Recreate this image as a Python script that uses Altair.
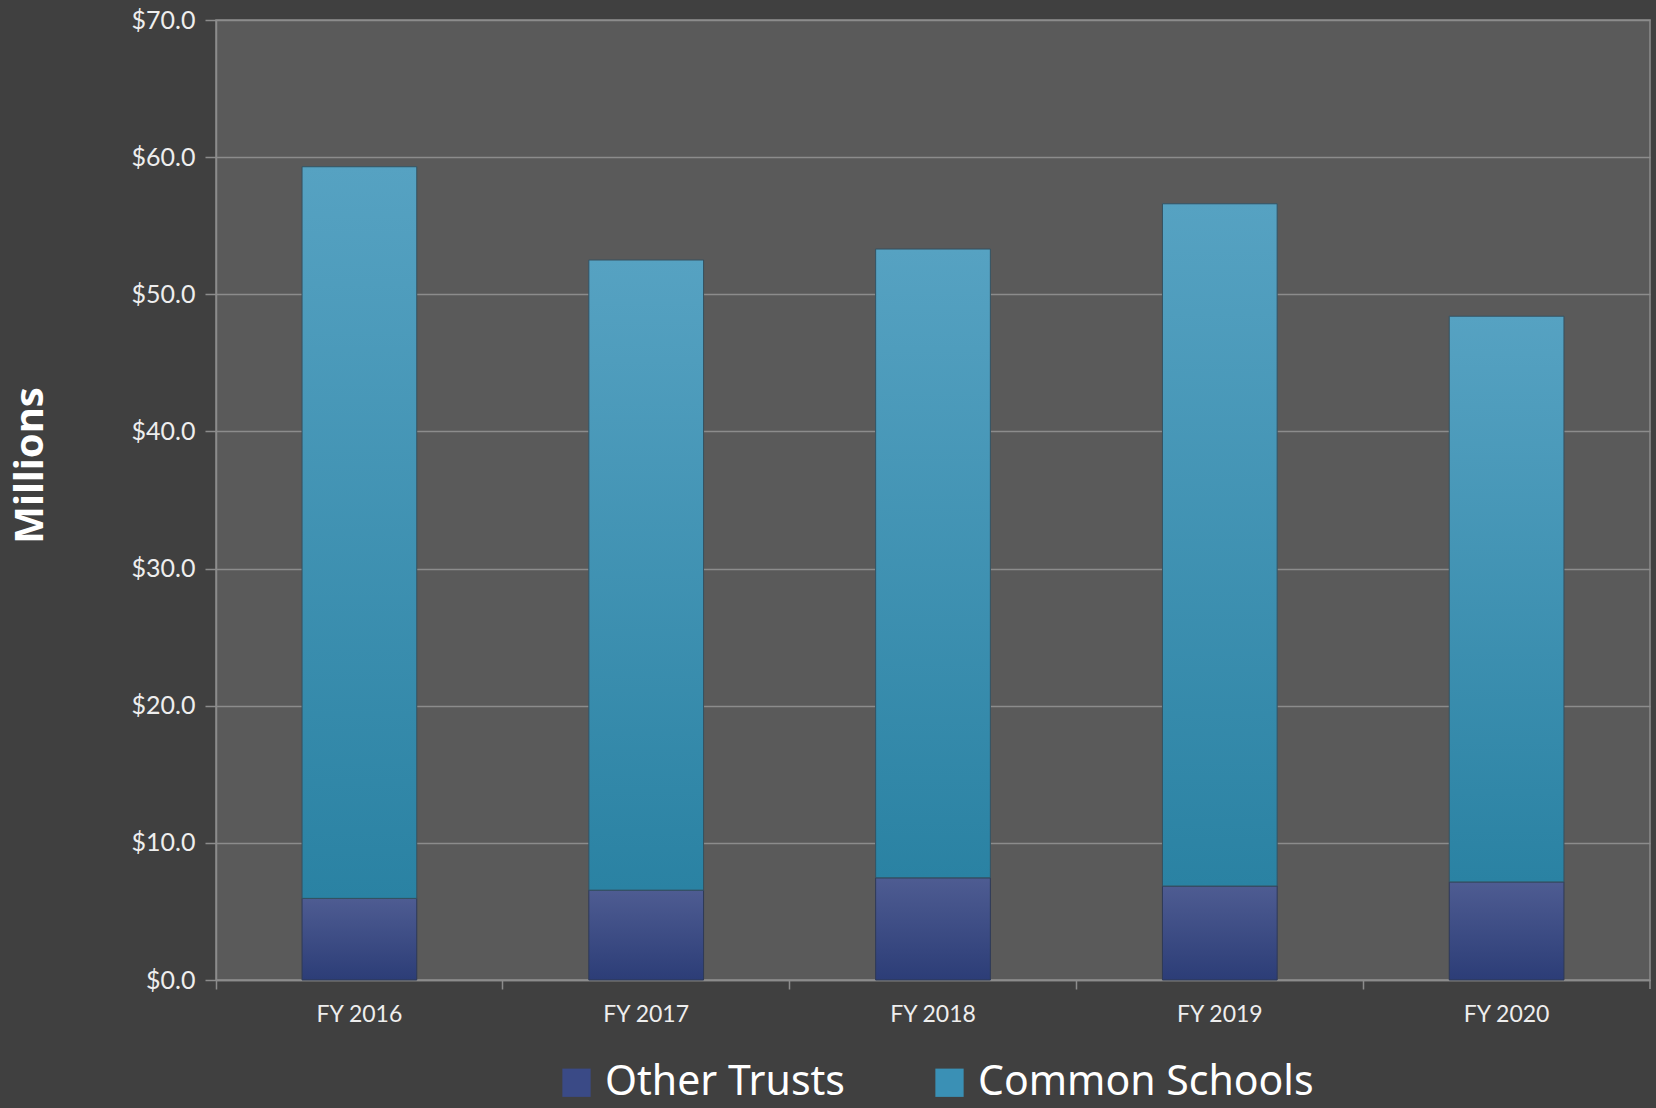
import altair as alt
import pandas as pd

years = ["FY 2016", "FY 2017", "FY 2018", "FY 2019", "FY 2020"]
other_trusts = [5.95, 6.55, 7.45, 6.85, 7.15]
common_schools = [53.35, 45.95, 45.85, 49.75, 41.25]
series_names = ["Other Trusts", "Common Schools"]
y_ticks = [0, 10, 20, 30, 40, 50, 60, 70]

rows = []
for i, yr in enumerate(years):
    base = 0.0
    for name, vals in zip(series_names, [other_trusts, common_schools]):
        rows.append({"year": yr, "series": name, "value": vals[i],
                     "y0": base, "y1": base + vals[i]})
        base += vals[i]
df = pd.DataFrame(rows)

W, H = 1434, 960
GRID = "#8c8c8c"
TEXT = "#eeeeee"

def grad(top, bottom):
    return alt.Gradient(
        gradient="linear", x1=0, x2=0, y1=0, y2=1,
        stops=[alt.GradientStop(offset=0, color=top),
               alt.GradientStop(offset=1, color=bottom)])

x_enc = alt.X("year:N", sort=years,
              scale=alt.Scale(paddingInner=0, paddingOuter=0),
              axis=alt.Axis(title=None, bandPosition=0,
                            labelAngle=0, labelFont="Lato", labelFontSize=23,
                            labelColor=TEXT, labelPadding=14, tickSize=9,
                            tickColor=GRID, domainColor=GRID, tickWidth=1.5,
                            domainWidth=1.5, grid=False))
y_enc = alt.Y("y1:Q", scale=alt.Scale(domain=[0, 70], nice=False),
              axis=alt.Axis(values=y_ticks, format="$.1f", title="Millions",
                            titleFont="Noto Sans", titleFontSize=40,
                            titleFontWeight="bold", titleColor="#ffffff",
                            titleAngle=270, titleX=-186, titleY=445,
                            titleBaseline="middle",
                            labelFont="Lato", labelFontSize=25, labelColor=TEXT,
                            labelPadding=10, tickSize=11, tickColor=GRID,
                            tickWidth=1.5, domainColor=GRID, domainWidth=1.5,
                            gridColor=GRID, gridWidth=1.5))

base = alt.Chart(df)
solid = base.mark_bar(width=alt.RelativeBandSize(0.4)).encode(
    x=x_enc, y=y_enc, y2="y0:Q",
    color=alt.Color("series:N",
                    scale=alt.Scale(domain=series_names,
                                    range=["#3a4a86", "#3a90b5"]),
                    legend=alt.Legend(title=None, orient="none",
                                      direction="horizontal",
                                      legendX=340, legendY=1042,
                                      symbolType="square", symbolSize=800,
                                      symbolStrokeWidth=0,
                                      labelFont="Noto Sans", labelFontSize=41,
                                      labelColor="#ffffff", labelOffset=8,
                                      columnPadding=84, labelLimit=400)),
)

other_layer = base.transform_filter(alt.datum.series == "Other Trusts").mark_bar(
    width=alt.RelativeBandSize(0.4), fill=grad("#4e5c92", "#2c3d77"),
    stroke="#2f3a55", strokeWidth=1).encode(
    x=alt.X("year:N", sort=years), y="y1:Q", y2="y0:Q")

common_layer = base.transform_filter(alt.datum.series == "Common Schools").mark_bar(
    width=alt.RelativeBandSize(0.4), fill=grad("#56a2c2", "#2a82a3"),
    stroke="#36505e", strokeWidth=1).encode(
    x=alt.X("year:N", sort=years), y="y1:Q", y2="y0:Q")

end_tick = alt.Chart(pd.DataFrame({"k": [0]})).mark_rule(
    color=GRID, strokeWidth=1.5).encode(
    x=alt.value(W), y=alt.value(H), y2=alt.value(H + 9))

chart = alt.layer(solid, other_layer, common_layer, end_tick).properties(
    width=W, height=H,
    autosize=alt.AutoSizeParams(type="none"),
    padding={"left": 216, "top": 20, "right": 6, "bottom": 128},
    background="#404040",
).configure_view(fill="#5a5a5a", stroke=GRID, strokeWidth=1.5)

chart.save("out.html", embed_options={"renderer": "svg", "actions": False})
